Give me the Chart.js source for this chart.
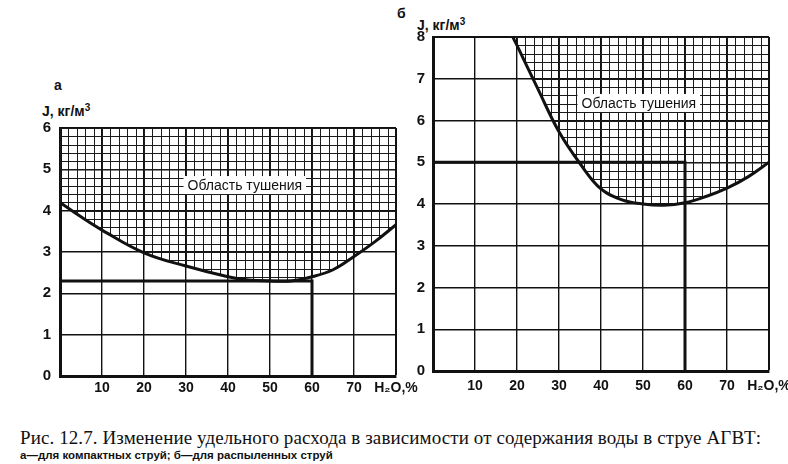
<!DOCTYPE html>
<html>
<head>
<meta charset="utf-8">
<script src="https://cdn.jsdelivr.net/npm/chart.js@4.4.1/dist/chart.umd.min.js"></script>
<style>
  body { margin: 0; background: #fff; width: 788px; height: 464px; overflow: hidden; position: relative; }
  canvas { position: absolute; }
  .lbl { position: absolute; font-family: "Liberation Sans", Arial, sans-serif; font-weight: bold; color: #111; line-height: 1; white-space: nowrap; }
  .cap { position: absolute; font-family: "Liberation Serif", "Times New Roman", serif; color: #111; white-space: nowrap; line-height: 1; }
</style>
</head>
<body>
<div class="lbl" style="left:54px;top:78px;font-size:14px;">а</div>
<div class="lbl" style="left:42px;top:103px;font-size:14px;">J, кг/м<sup style="font-size:10px;vertical-align:5px;">3</sup></div>
<div class="lbl" style="left:397px;top:6px;font-size:14px;">б</div>
<div class="lbl" style="left:417px;top:17px;font-size:14px;">J, кг/м<sup style="font-size:10px;vertical-align:5px;">3</sup></div>

<canvas id="chartA" width="420" height="330" style="left:0;top:80px;"></canvas>
<canvas id="chartB" width="408" height="410" style="left:380px;top:0;"></canvas>

<div class="cap" style="left:20px;top:428px;font-size:19px;letter-spacing:0.1px;">Рис. 12.7. Изменение удельного расхода в зависимости от содержания воды в струе АГВТ:</div>
<div class="cap" style="left:20px;top:450px;font-size:11.5px;font-weight:bold;font-family:'Liberation Sans',Arial,sans-serif;">а—для компактных струй; б—для распыленных струй</div>

<script>
// Chart a (compact jets)
var waterA = [0, 5, 10, 20, 30, 40, 45, 50, 55, 60, 65, 70, 75, 80];
var rateA = [4.2, 3.85, 3.53, 2.98, 2.66, 2.4, 2.32, 2.3, 2.3, 2.4, 2.57, 2.89, 3.25, 3.66];
var boundXA = [0, 60, 60];
var boundYA = [2.3, 2.3, 0];

// Chart b (sprayed jets)
var waterB = [19, 20, 25, 30, 35, 40, 45, 50, 55, 60, 65, 70, 75, 80];
var rateB = [8.0, 7.8, 6.75, 5.73, 4.97, 4.36, 4.1, 4.0, 3.97, 4.03, 4.18, 4.38, 4.65, 5.0];
var boundXB = [0, 60, 60];
var boundYB = [5, 5, 0];

// axis ticks
var xTickValues = [0, 10, 20, 30, 40, 50, 60, 70, 80];
var xTickLabels = ['', '10', '20', '30', '40', '50', '60', '70', 'H₂O,%'];

var areaLabel = 'Область тушения';

function pts(xs, ys) {
  return xs.map(function (x, i) { return { x: x, y: ys[i] }; });
}

// fine grid over the extinguishing area (above the curve)
var hatchPlugin = {
  id: 'hatch',
  beforeDatasetsDraw: function (chart, args, opts) {
    var ctx = chart.ctx;
    var area = chart.chartArea;
    var xs = chart.scales.x, ys = chart.scales.y;
    var meta = chart.getDatasetMeta(0);
    var points = meta.data;
    var first = points[0], last = points[points.length - 1];

    ctx.save();
    ctx.beginPath();
    if (meta.dataset && meta.dataset.path) {
      meta.dataset.path(ctx);
    } else {
      ctx.moveTo(first.x, first.y);
      points.forEach(function (p) { ctx.lineTo(p.x, p.y); });
    }
    ctx.lineTo(last.x, area.top);
    ctx.lineTo(first.x, area.top);
    ctx.closePath();
    ctx.clip();

    ctx.strokeStyle = '#1a1a1a';
    ctx.lineWidth = 1;
    ctx.beginPath();
    for (var v = xs.min; v <= xs.max + 1e-6; v += 2) {
      var px = Math.round(xs.getPixelForValue(v)) + 0.5;
      ctx.moveTo(px, area.top);
      ctx.lineTo(px, area.bottom);
    }
    for (var k = 0; k <= Math.round(ys.max / 0.2); k++) {
      var py = Math.round(ys.getPixelForValue(k * 0.2)) + 0.5;
      ctx.moveTo(area.left, py);
      ctx.lineTo(area.right, py);
    }
    ctx.stroke();
    ctx.restore();

    // label with white box
    ctx.save();
    ctx.font = '14px "Liberation Sans", Arial, sans-serif';
    var tx = xs.getPixelForValue(opts.x);
    var ty = ys.getPixelForValue(opts.y);
    var w = ctx.measureText(areaLabel).width;
    ctx.fillStyle = '#fff';
    ctx.fillRect(tx - w / 2 - 4, ty - 9, w + 8, 18);
    ctx.fillStyle = '#111';
    ctx.textAlign = 'center';
    ctx.textBaseline = 'middle';
    ctx.fillText(areaLabel, tx, ty + 1);
    ctx.restore();
  }
};

function makeChart(id, curve, bound, yMax, pad, yWidth, xPad, yPad, labelPos) {
  return new Chart(document.getElementById(id), {
    type: 'scatter',
    data: {
      datasets: [
        {
          data: curve,
          showLine: true,
          borderColor: '#111',
          borderWidth: 3,
          pointRadius: 0,
          tension: 0.4,
          fill: false
        },
        {
          data: bound,
          showLine: true,
          borderColor: '#111',
          borderWidth: 3,
          pointRadius: 0,
          tension: 0,
          fill: false
        }
      ]
    },
    options: {
      responsive: false,
      animation: false,
      devicePixelRatio: 1,
      layout: { padding: pad },
      plugins: {
        legend: { display: false },
        tooltip: { enabled: false },
        hatch: labelPos
      },
      scales: {
        x: {
          type: 'linear',
          min: 0,
          max: 80,
          afterBuildTicks: function (s) {
            s.ticks = xTickValues.map(function (v) { return { value: v }; });
          },
          afterFit: function (s) { s.paddingLeft = 0; s.paddingRight = 0; s.height = 24; },
          grid: {
            color: '#111',
            lineWidth: function (c) { return c.tick && c.tick.value === 80 ? 2 : 1.4; },
            drawTicks: false
          },
          border: { display: true, color: '#111', width: 3 },
          ticks: {
            padding: xPad,
            color: '#111',
            font: { family: '"Liberation Sans", Arial, sans-serif', size: 14, weight: 'bold' },
            maxRotation: 0,
            autoSkip: false,
            callback: function (v) {
              var i = xTickValues.indexOf(v);
              return i >= 0 ? xTickLabels[i] : '';
            }
          }
        },
        y: {
          type: 'linear',
          min: 0,
          max: yMax,
          afterFit: function (s) { s.paddingTop = 0; s.paddingBottom = 0; s.width = yWidth; },
          grid: {
            color: '#111',
            lineWidth: function (c) { return c.tick && c.tick.value === yMax ? 2 : 1.4; },
            drawTicks: false
          },
          border: { display: true, color: '#111', width: 3 },
          ticks: {
            stepSize: 1,
            padding: yPad,
            color: '#111',
            font: { family: '"Liberation Sans", Arial, sans-serif', size: 15, weight: 'bold' }
          }
        }
      }
    },
    plugins: [hatchPlugin]
  });
}

makeChart('chartA', pts(waterA, rateA), pts(boundXA, boundYA), 6,
  { left: 0, right: 24, top: 48, bottom: 10 }, 60, 4, 9, { x: 44, y: 4.62 });
makeChart('chartB', pts(waterB, rateB), pts(boundXB, boundYB), 8,
  { left: 0, right: 19, top: 37, bottom: 15 }, 53, 7, 8, { x: 49, y: 6.42 });
</script>
</body>
</html>
